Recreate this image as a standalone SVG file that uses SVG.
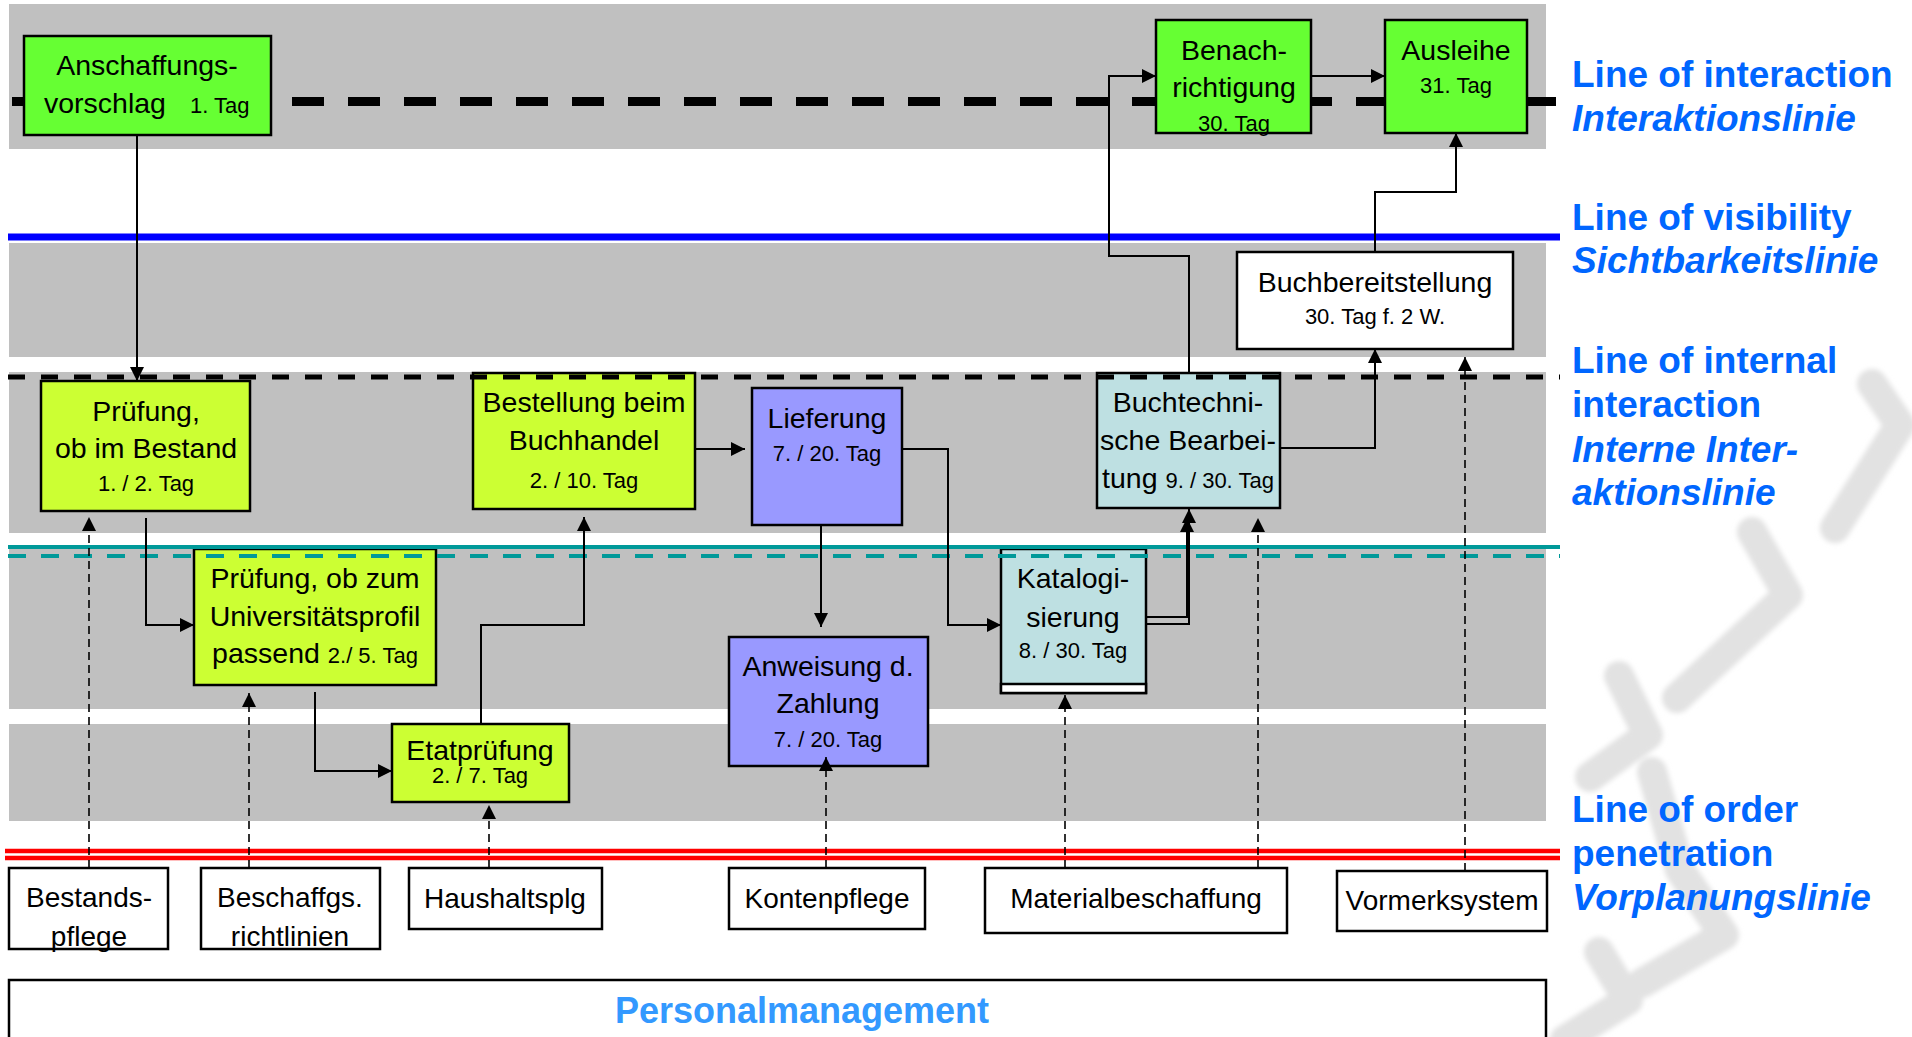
<svg xmlns="http://www.w3.org/2000/svg" width="1912" height="1037" viewBox="0 0 1912 1037">
  <style>
    .band { fill: #c0c0c0; }
    .box { stroke: #000; stroke-width: 2.5; }
    .green { fill: #66ff33; }
    .lime { fill: #ccff33; }
    .violet { fill: #9999ff; }
    .aqua { fill: #bee0e2; }
    .plain { fill: #fff; }
    text { font-family: "Liberation Sans", Arial, sans-serif; fill: #000; }
    .t { font-size: 28.5px; text-anchor: middle; }
    .s { font-size: 22px; }
    .b { font-size: 28px; text-anchor: middle; }
    .lbl { font-size: 37px; font-weight: bold; fill: #0066ff; }
    .lbl-i { font-size: 37px; font-weight: bold; font-style: italic; fill: #0066ff; }
    .flow { fill: none; stroke: #000; stroke-width: 2; marker-end: url(#arrow); }
    .ref { fill: none; stroke: #000; stroke-width: 1.6; stroke-dasharray: 8 5; marker-end: url(#arrow); }
    .mark { fill: none; stroke: #e2e2e2; stroke-width: 30; stroke-linejoin: round; stroke-linecap: round; }
  </style>
  <defs>
    <marker id="arrow" viewBox="0 0 14 14" markerWidth="14" markerHeight="14" refX="14" refY="7" orient="auto" markerUnits="userSpaceOnUse">
      <path d="M0,0 L14,7 L0,14 z" fill="#000"/>
    </marker>
    <filter id="soft" x="-10%" y="-10%" width="120%" height="120%">
      <feGaussianBlur stdDeviation="2.5"/>
    </filter>
  </defs>

  <rect width="1912" height="1037" fill="#fff"/>

  <!-- background watermark chevrons -->
  <g id="watermark" filter="url(#soft)">
    <polyline class="mark" points="1872,384 1900,425 1835,528"/>
    <polyline class="mark" points="1752,532 1788,595 1677,698"/>
    <polyline class="mark" points="1619,676 1648,735 1590,777"/>
    <polyline class="mark" points="1652,772 1680,870 1724,935 1642,983"/>
    <polyline class="mark" points="1599,952 1628,1000 1565,1040"/>
  </g>

  <!-- swimlane bands -->
  <g id="bands">
    <rect class="band" x="9" y="4" width="1537" height="145"/>
    <rect class="band" x="9" y="243" width="1537" height="114"/>
    <rect class="band" x="9" y="372" width="1537" height="161"/>
    <rect class="band" x="9" y="549" width="1537" height="160"/>
    <rect class="band" x="9" y="724" width="1537" height="97"/>
  </g>

  <!-- separator lines drawn beneath the nodes -->
  <g id="lines-under">
    <line x1="12" y1="101.5" x2="1558" y2="101.5" stroke="#000" stroke-width="9" stroke-dasharray="32 24"/>
    <line x1="8" y1="237" x2="1560" y2="237" stroke="#0000ff" stroke-width="7"/>
    <line x1="5" y1="851" x2="1560" y2="851" stroke="#ff0000" stroke-width="4.5"/>
    <line x1="5" y1="858" x2="1560" y2="858" stroke="#ff0000" stroke-width="4.5"/>
  </g>

  <!-- process nodes -->
  <g id="n-anschaffung">
    <rect class="box green" x="24" y="36" width="247" height="99"/>
    <text class="t" x="147" y="75">Anschaffungs-</text>
    <text x="44" y="113" style="font-size:28.5px">vorschlag</text>
    <text class="s" x="190" y="113">1. Tag</text>
  </g>
  <g id="n-benachrichtigung">
    <rect class="box green" x="1156" y="20" width="155" height="113"/>
    <text class="t" x="1234" y="60">Benach-</text>
    <text class="t" x="1234" y="97">richtigung</text>
    <text class="s" x="1234" y="131" text-anchor="middle">30. Tag</text>
  </g>
  <g id="n-ausleihe">
    <rect class="box green" x="1385" y="20" width="142" height="113"/>
    <text class="t" x="1456" y="60">Ausleihe</text>
    <text class="s" x="1456" y="93" text-anchor="middle">31. Tag</text>
  </g>
  <g id="n-bereitstellung">
    <rect class="box plain" x="1237" y="252" width="276" height="97"/>
    <text class="t" x="1375" y="292">Buchbereitstellung</text>
    <text class="s" x="1375" y="324" text-anchor="middle">30. Tag f. 2 W.</text>
  </g>
  <g id="n-bestand">
    <rect class="box lime" x="41" y="381" width="209" height="130"/>
    <text class="t" x="146" y="421">Prüfung,</text>
    <text class="t" x="146" y="458">ob im Bestand</text>
    <text class="s" x="146" y="491" text-anchor="middle">1. / 2. Tag</text>
  </g>
  <g id="n-bestellung">
    <rect class="box lime" x="473" y="373" width="222" height="136"/>
    <text class="t" x="584" y="412">Bestellung beim</text>
    <text class="t" x="584" y="450">Buchhandel</text>
    <text class="s" x="584" y="488" text-anchor="middle">2. / 10. Tag</text>
  </g>
  <g id="n-lieferung">
    <rect class="box violet" x="752" y="388" width="150" height="137"/>
    <text class="t" x="827" y="428">Lieferung</text>
    <text class="s" x="827" y="461" text-anchor="middle">7. / 20. Tag</text>
  </g>
  <g id="n-buchtechnik">
    <rect class="box aqua" x="1097" y="373" width="183" height="135"/>
    <text class="t" x="1188" y="412">Buchtechni-</text>
    <text class="t" x="1188" y="450">sche Bearbei-</text>
    <text class="t" x="1188" y="488">tung <tspan style="font-size:22px">9. / 30. Tag</tspan></text>
  </g>
  <g id="n-profil">
    <rect class="box lime" x="194" y="549" width="242" height="136"/>
    <text class="t" x="315" y="588">Prüfung, ob zum</text>
    <text class="t" x="315" y="626">Universitätsprofil</text>
    <text class="t" x="315" y="663">passend <tspan style="font-size:22px">2./ 5. Tag</tspan></text>
  </g>
  <g id="n-anweisung">
    <rect class="box violet" x="729" y="637" width="199" height="129"/>
    <text class="t" x="828" y="676">Anweisung d.</text>
    <text class="t" x="828" y="713">Zahlung</text>
    <text class="s" x="828" y="747" text-anchor="middle">7. / 20. Tag</text>
  </g>
  <g id="n-katalog">
    <rect class="box aqua" x="1001" y="549" width="145" height="144"/>
    <rect class="box plain" x="1001" y="684" width="145" height="9"/>
    <text class="t" x="1073" y="588">Katalogi-</text>
    <text class="t" x="1073" y="627">sierung</text>
    <text class="s" x="1073" y="658" text-anchor="middle">8. / 30. Tag</text>
  </g>
  <g id="n-etat">
    <rect class="box lime" x="392" y="724" width="177" height="78"/>
    <text class="t" x="480" y="760">Etatprüfung</text>
    <text class="s" x="480" y="783" text-anchor="middle">2. / 7. Tag</text>
  </g>

  <!-- supporting systems -->
  <g id="n-bestandspflege">
    <rect class="box plain" x="9" y="868" width="159" height="81"/>
    <text class="b" x="89" y="907">Bestands-</text>
    <text class="b" x="89" y="946">pflege</text>
  </g>
  <g id="n-richtlinien">
    <rect class="box plain" x="201" y="868" width="179" height="81"/>
    <text class="b" x="290" y="907">Beschaffgs.</text>
    <text class="b" x="290" y="946">richtlinien</text>
  </g>
  <g id="n-haushalt">
    <rect class="box plain" x="409" y="868" width="193" height="61"/>
    <text class="b" x="505" y="908">Haushaltsplg</text>
  </g>
  <g id="n-konten">
    <rect class="box plain" x="729" y="868" width="196" height="61"/>
    <text class="b" x="827" y="908">Kontenpflege</text>
  </g>
  <g id="n-material">
    <rect class="box plain" x="985" y="868" width="302" height="65"/>
    <text class="b" x="1136" y="908">Materialbeschaffung</text>
  </g>
  <g id="n-vormerk">
    <rect class="box plain" x="1337" y="871" width="210" height="60"/>
    <text class="b" x="1442" y="910">Vormerksystem</text>
  </g>
  <g id="n-personal">
    <rect class="box plain" x="9" y="980" width="1537" height="70"/>
    <text x="802" y="1023" text-anchor="middle" style="font-size:36px;font-weight:bold;fill:#3399ff">Personalmanagement</text>
  </g>

  <!-- separator lines drawn over the nodes -->
  <g id="lines-over">
    <line x1="8" y1="377" x2="1560" y2="377" stroke="#000" stroke-width="5" stroke-dasharray="17 16"/>
    <line x1="8" y1="547" x2="1560" y2="547" stroke="#009999" stroke-width="4"/>
    <line x1="8" y1="556" x2="1560" y2="556" stroke="#009999" stroke-width="4" stroke-dasharray="18 15"/>
  </g>

  <!-- connectors -->
  <g id="connectors">
    <path class="flow" d="M137,135 V381"/>
    <path class="flow" d="M146,518 V625 H194"/>
    <path class="flow" d="M315,692 V771 H392"/>
    <path class="flow" d="M481,724 V625 H584 V517"/>
    <path class="flow" d="M695,449 H745"/>
    <path class="flow" d="M821,525 V627"/>
    <path class="flow" d="M902,449 H948 V625 H1001"/>
    <path class="flow" d="M1146,617 H1187 V518"/>
    <path class="flow" d="M1146,624 H1189 V509"/>
    <path class="flow" d="M1189,373 V256 H1109 V76 H1156"/>
    <path class="flow" d="M1311,76 H1385"/>
    <path class="flow" d="M1280,448 H1375 V349"/>
    <path class="flow" d="M1375,252 V192 H1456 V133"/>
    <path class="ref" d="M89,868 V517"/>
    <path class="ref" d="M249,868 V693"/>
    <path class="ref" d="M489,868 V805"/>
    <path class="ref" d="M826,868 V757"/>
    <path class="ref" d="M1065,868 V695"/>
    <path class="ref" d="M1258,868 V518"/>
    <path class="ref" d="M1465,871 V357"/>
  </g>

  <!-- line captions -->
  <g id="captions">
    <text class="lbl" x="1572" y="87">Line of interaction</text>
    <text class="lbl-i" x="1572" y="131">Interaktionslinie</text>
    <text class="lbl" x="1572" y="230">Line of visibility</text>
    <text class="lbl-i" x="1572" y="273">Sichtbarkeitslinie</text>
    <text class="lbl" x="1572" y="373">Line of internal</text>
    <text class="lbl" x="1572" y="417">interaction</text>
    <text class="lbl-i" x="1572" y="462">Interne Inter-</text>
    <text class="lbl-i" x="1572" y="505">aktionslinie</text>
    <text class="lbl" x="1572" y="822">Line of order</text>
    <text class="lbl" x="1572" y="866">penetration</text>
    <text class="lbl-i" x="1572" y="910">Vorplanungslinie</text>
  </g>
</svg>
